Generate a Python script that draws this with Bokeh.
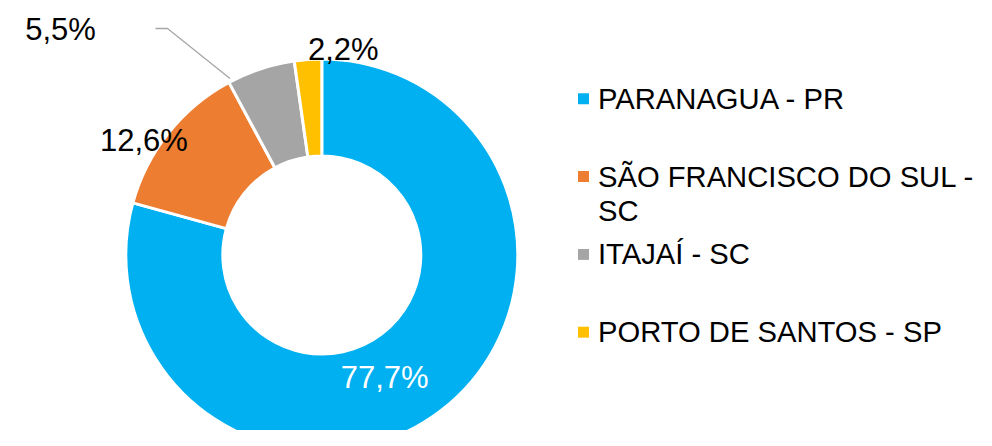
import math
import textwrap
from bokeh.plotting import figure
from bokeh.models import Range1d, ColumnDataSource
from bokeh.core.properties import value
from bokeh.embed import file_html
from bokeh.resources import INLINE

# ---- data ----
categories = ["PARANAGUA - PR", "SÃO FRANCISCO DO SUL - SC", "ITAJAÍ - SC", "PORTO DE SANTOS - SP"]
shares = [77.7, 12.6, 5.5, 2.2]
labels = ["77,7%", "12,6%", "5,5%", "2,2%"]
colors = ["#00B0F0", "#ED7D31", "#A5A5A5", "#FFC000"]

# ---- layout (pixels) ----
W, H = 976, 430
cx, cy = 321.3, 254.5          # donut centre in figure pixels
R_OUT, R_IN = 196, 99
FONT = "Liberation Sans"
TXT_UP = 10.5                  # baseline correction for text rendering

p = figure(width=W, height=H, output_backend="svg", toolbar_location=None,
           x_range=Range1d(-cx, W - cx), y_range=Range1d(cy - H, cy),
           min_border=0, outline_line_color=None)
p.axis.visible = False
p.grid.visible = False
p.background_fill_color = "white"

total = sum(shares)
starts, ends, mids = [], [], []
acc = 0.0
for s in shares:
    a0 = math.pi / 2 - 2 * math.pi * acc / total
    acc += s
    a1 = math.pi / 2 - 2 * math.pi * acc / total
    starts.append(a0); ends.append(a1); mids.append((a0 + a1) / 2)

src = ColumnDataSource(dict(start=starts, end=ends, color=colors))
p.annular_wedge(x=0, y=0, inner_radius=R_IN, outer_radius=R_OUT,
                start_angle="start", end_angle="end", direction="clock",
                fill_color="color", line_color="white", line_width=3, source=src)

# ---- data labels: (radius, angle nudge in degrees) per slice ----
lab_r = [137, 212, None, 207]
lab_nudge = [-10, 5.6, 0, -10]
cap = 0.716 * 31
lx, ly, lc, lt = [], [], [], []
for i, t in enumerate(labels):
    if lab_r[i] is None:
        continue
    a = mids[i] + math.radians(lab_nudge[i])
    lx.append(lab_r[i] * math.cos(a)); ly.append(lab_r[i] * math.sin(a) - cap / 2 + TXT_UP)
    lc.append("white" if i == 0 else "black"); lt.append(t)
p.text(x=lx, y=ly, text=lt, text_color=lc, text_font=value(FONT),
       text_font_size="31px", text_align="center", text_baseline="alphabetic")

# leader-line label for the small grey slice
gi = 2
a_edge = starts[gi] - math.radians(0.8)
p0 = (199 * math.cos(a_edge), 199 * math.sin(a_edge))
p1 = (167 - cx, cy - 28)
p2 = (155 - cx, cy - 28)
p.line(x=[p0[0], p1[0], p2[0]], y=[p0[1], p1[1], p2[1]], line_color="#A6A6A6", line_width=1.3)
p.text(x=[60 - cx], y=[cy - 39.3 + TXT_UP], text=[labels[gi]], text_color="black",
       text_font=value(FONT), text_font_size="31px", text_align="center",
       text_baseline="alphabetic")

# ---- legend ----
leg_x = 597 - 14 - cx
txt_x = 611.5 - 14 - cx
row0 = 98.3
row_gap = 77.8
line_gap = 34
mx, my, tx, ty, tt = [], [], [], [], []
for i, c in enumerate(categories):
    yc = cy - (row0 + i * row_gap)
    mx.append(leg_x); my.append(yc)
    for j, ln in enumerate(textwrap.wrap(c, 22)):
        tx.append(txt_x); ty.append(yc - 10.4 - j * line_gap + TXT_UP); tt.append(ln)
p.scatter(x=mx, y=my, marker="square", size=11, fill_color=colors, line_color=None)
p.text(x=tx, y=ty, text=tt, text_color="black", text_font=value(FONT),
       text_font_size="29.2px", text_align="left", text_baseline="alphabetic")

open("out.html", "w").write(file_html(p, INLINE))
